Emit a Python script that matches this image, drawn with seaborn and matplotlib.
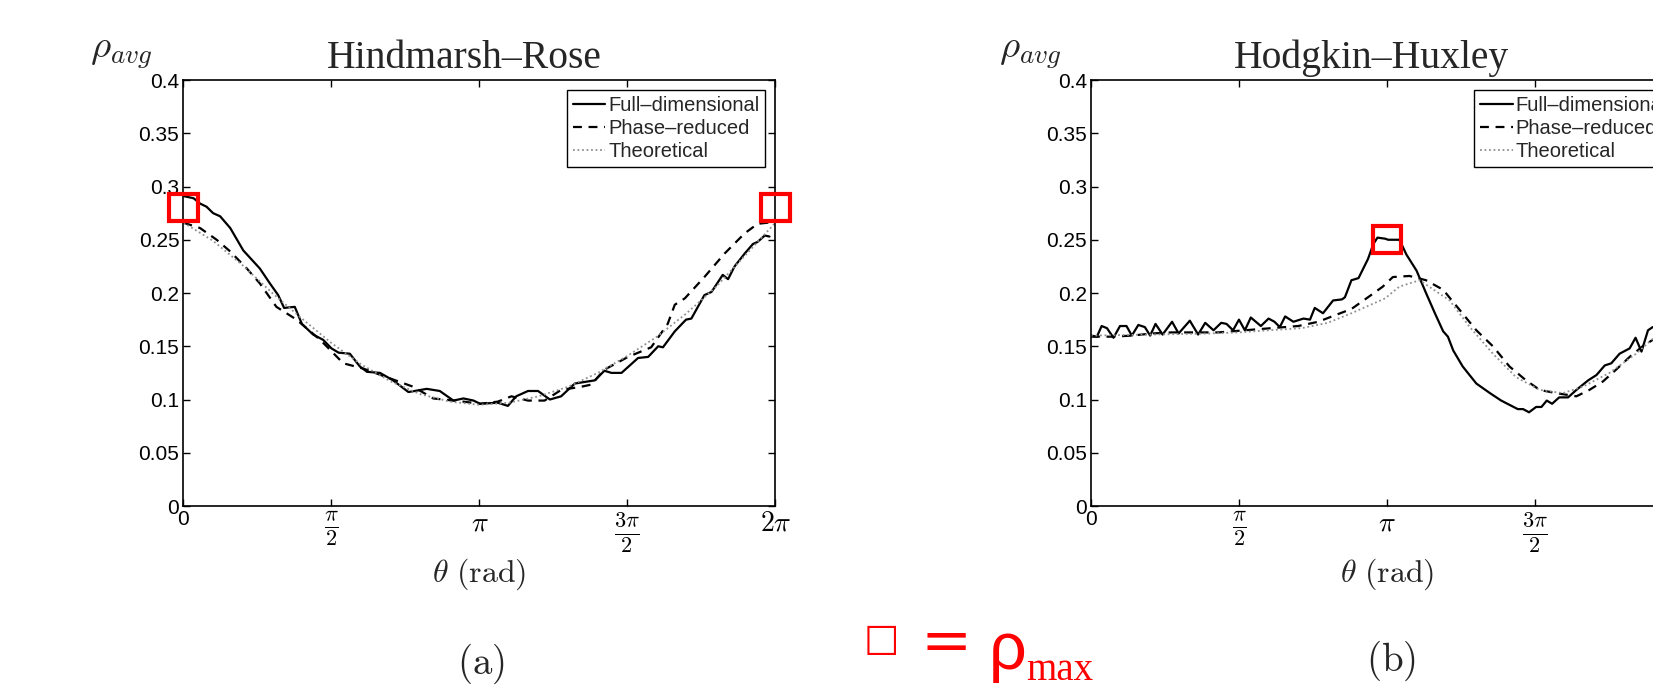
import numpy as np
import pandas as pd
import seaborn as sns
import matplotlib
matplotlib.use("Agg")
import matplotlib.pyplot as plt
from matplotlib.patches import Rectangle

# theta values are read as fraction of the full period (0..1), converted to rad below
# --- (a) Hindmarsh-Rose ---
hr_full_t = [0.0, .017, .028, .039, .050, .062, .079, .101, .129, .146, .160, .170, .188, .200,
             .219, .236, .250, .262, .281, .298, .310, .332, .354, .380, .411, .433, .456, .473,
             .490, .501, .531, .548, .562, .582, .599, .619, .638, .661, .695, .711, .723, .740,
             .768, .785, .802, .810, .830, .849, .858, .880, .892, .911, .920, .931, .948, .962,
             .970, .982, .990]
hr_full_r = [.291, .289, .284, .281, .275, .272, .261, .240, .223, .209, .198, .186, .187, .171,
             .161, .156, .148, .144, .143, .131, .126, .125, .118, .107, .110, .108, .099, .101,
             .099, .096, .097, .094, .103, .108, .108, .100, .103, .115, .118, .127, .125, .125,
             .139, .140, .150, .149, .164, .175, .176, .198, .201, .217, .213, .225, .237, .246,
             .248, .254, .253]

hr_phase_t = [0.0, .028, .056, .079, .107, .129, .157, .191, .231, .270, .304, .343, .388, .422,
              .473, .501, .531, .554, .582, .610, .638, .672, .689, .711, .751, .790, .818, .830,
              .847, .880, .914, .948, .970, .987, 1.0]
hr_phase_r = [.266, .261, .250, .239, .223, .209, .187, .175, .156, .134, .129, .121, .112, .101,
              .098, .096, .098, .103, .099, .099, .109, .112, .114, .128, .140, .149, .171, .189,
              .195, .215, .237, .256, .265, .266, .266]

hr_theo_t = [0.0, .05, .10, .15, .20, .25, .30, .35, .40, .45, .50, .55, .60, .65, .70, .75,
             .80, .85, .90, .95, 1.0]
hr_theo_r = [.266, .249, .226, .200, .176, .153, .133, .117, .105, .098, .095, .097, .103, .112,
             .125, .141, .159, .181, .206, .236, .266]

# --- (b) Hodgkin-Huxley ---
hh_full_t = [0.0, .010, .018, .027, .038, .049, .060, .069, .080, .091, .100, .109, .121, .137,
             .148, .167, .181, .193, .207, .220, .229, .240, .250, .260, .270, .287, .300, .310,
             .319, .328, .342, .359, .370, .378, .392, .409, .424, .429, .440, .452, .468, .477,
             .484, .497, .502, .521, .533, .550, .566, .581, .595, .603, .612, .628, .651, .674,
             .693, .707, .721, .730, .740, .752, .761, .770, .779, .791, .806, .820, .840, .854,
             .868, .879, .893, .910, .920, .930, .941, .949, .965, .982, 1.0]
hh_full_r = [.160, .159, .169, .167, .158, .169, .169, .160, .170, .168, .160, .171, .161, .173,
             .162, .174, .161, .172, .165, .172, .171, .165, .175, .165, .177, .169, .176, .173,
             .168, .178, .173, .176, .175, .186, .181, .193, .194, .196, .212, .214, .232, .246,
             .252, .251, .250, .250, .236, .221, .200, .181, .164, .159, .146, .131, .115, .106,
             .099, .095, .091, .091, .088, .093, .093, .099, .096, .102, .102, .109, .118, .123,
             .132, .134, .143, .148, .158, .145, .165, .168, .167, .165, .163]

hh_phase_t = [0.0, .035, .069, .103, .136, .176, .215, .260, .305, .350, .384, .407, .440, .468,
              .493, .510, .538, .566, .595, .623, .651, .679, .707, .735, .758, .786, .820, .842,
              .865, .887, .910, .932, .949, .975, 1.0]
hh_phase_r = [.159, .159, .160, .162, .163, .163, .163, .165, .167, .169, .173, .178, .185, .196,
              .206, .215, .216, .212, .203, .184, .165, .150, .131, .118, .109, .106, .103, .109,
              .117, .128, .140, .150, .156, .158, .159]

hh_theo_t = [0.0, .10, .20, .25, .30, .356, .40, .44, .497, .521, .555, .606, .640, .679, .718,
             .758, .797, .831, .876, .921, .949, 1.0]
hh_theo_r = [.160, .161, .162, .163, .165, .167, .172, .181, .195, .206, .212, .193, .168, .143,
             .121, .109, .106, .112, .125, .143, .157, .160]

# rho_max boxes: centre theta (fraction of period), centre rho
hr_max_t = [0.0, 1.0]
hr_max_r = [0.280, 0.280]
hh_max_t = [0.5]
hh_max_r = [0.2505]

labels = ["Full\u2013dimensional", "Phase\u2013reduced", "Theoretical"]
titles = ["Hindmarsh\u2013Rose", "Hodgkin\u2013Huxley"]

sns.set_style("ticks")
plt.rcParams["font.family"] = ["Liberation Sans Narrow", "Liberation Sans", "DejaVu Sans"]
plt.rcParams["mathtext.fontset"] = "cm"

fig = plt.figure(figsize=(16.53, 6.85), dpi=100)
ax1 = fig.add_axes([0.1110, 0.2613, 0.3581, 0.6219])
ax2 = fig.add_axes([0.6600, 0.2613, 0.3581, 0.6219])

panels = [
    (ax1, (hr_full_t, hr_full_r), (hr_phase_t, hr_phase_r), (hr_theo_t, hr_theo_r),
     (hr_max_t, hr_max_r), titles[0]),
    (ax2, (hh_full_t, hh_full_r), (hh_phase_t, hh_phase_r), (hh_theo_t, hh_theo_r),
     (hh_max_t, hh_max_r), titles[1]),
]

for ax, full, phase, theo, mx, title in panels:
    df_f = pd.DataFrame({"theta": np.array(full[0]) * 2 * np.pi, "rho": full[1]})
    df_p = pd.DataFrame({"theta": np.array(phase[0]) * 2 * np.pi, "rho": phase[1]})
    df_t = pd.DataFrame({"theta": np.array(theo[0]) * 2 * np.pi, "rho": theo[1]})
    sns.lineplot(data=df_f, x="theta", y="rho", ax=ax, color="black", lw=1.6,
                 linestyle="-", label=labels[0])
    sns.lineplot(data=df_p, x="theta", y="rho", ax=ax, color="black", lw=1.6,
                 dashes=False, linestyle=(0, (4, 3)), label=labels[1])
    sns.lineplot(data=df_t, x="theta", y="rho", ax=ax, color="#8f8f8f", lw=1.3,
                 linestyle=(0, (1, 1.5)), label=labels[2])

    for t, r in zip(mx[0], mx[1]):
        ax.add_patch(Rectangle((t * 2 * np.pi - 0.15, r - 0.0125), 0.30, 0.025,
                               fill=False, edgecolor="red", lw=3, clip_on=False, zorder=5))

    ax.set_xlim(0, 2 * np.pi)
    ax.set_ylim(0, 0.4)
    ax.set_xticks([0, np.pi / 2, np.pi, 3 * np.pi / 2, 2 * np.pi])
    ax.set_xticklabels(["0", r"$\frac{\pi}{2}$", r"$\pi$", r"$\frac{3\pi}{2}$", r"$2\pi$"])
    yt = [0, 0.05, 0.1, 0.15, 0.2, 0.25, 0.3, 0.35, 0.4]
    ax.set_yticks(yt)
    ax.set_yticklabels(["0", "0.05", "0.1", "0.15", "0.2", "0.25", "0.3", "0.35", "0.4"])
    ax.tick_params(direction="in", top=True, right=True, length=5, width=1, labelsize=15,
                   colors="black", pad=3)
    xl = ax.get_xticklabels()
    xl[1].set_fontsize(23)
    xl[3].set_fontsize(23)
    xl[2].set_fontsize(20)
    xl[4].set_fontsize(20)
    for s in ax.spines.values():
        s.set_visible(True)
        s.set_linewidth(1.2)
        s.set_color("black")
    ax.set_ylabel("")
    ax.set_xlabel(r"$\theta\ \mathrm{(rad)}$", fontsize=23, labelpad=1)
    ax.set_title(title, fontsize=28.5, family="Liberation Serif", pad=9, x=0.474)
    leg = ax.legend(loc="upper right", frameon=True, fancybox=False, edgecolor="black",
                    framealpha=1, fontsize=14.5, handlelength=1.6, handletextpad=0.15,
                    labelspacing=0.2, borderpad=0.3, borderaxespad=0.5)
    leg.get_frame().set_linewidth(1.0)

fig.text(121 / 1653, 1 - 53 / 685, r"$\rho_{avg}$", fontsize=28, ha="center", va="center")
fig.text(1030 / 1653, 1 - 53 / 685, r"$\rho_{avg}$", fontsize=28, ha="center", va="center")
fig.text(481 / 1653, 1 - 664 / 685, r"$\mathrm{(a)}$", fontsize=28, ha="center", va="center")
fig.text(1391 / 1653, 1 - 661 / 685, r"$\mathrm{(b)}$", fontsize=28, ha="center", va="center")

# red key: square = rho_max
fig.text(881 / 1653, 1 - 640 / 685, "\u25a1", fontsize=27, color="red", ha="center",
         va="center", family="DejaVu Sans")
fig.text(946 / 1653, 1 - 643 / 685, "=", fontsize=44, color="red", ha="center",
         va="center", family="DejaVu Sans")
fig.text(1008 / 1653, 1 - 652 / 685, "\u03c1", fontsize=48, color="red", ha="center",
         va="center", family="Liberation Sans")
fig.text(1060 / 1653, 1 - 670 / 685, "max", fontsize=28, color="red", ha="center",
         va="center", family="Liberation Serif")

fig.savefig("out.png", dpi=100)
